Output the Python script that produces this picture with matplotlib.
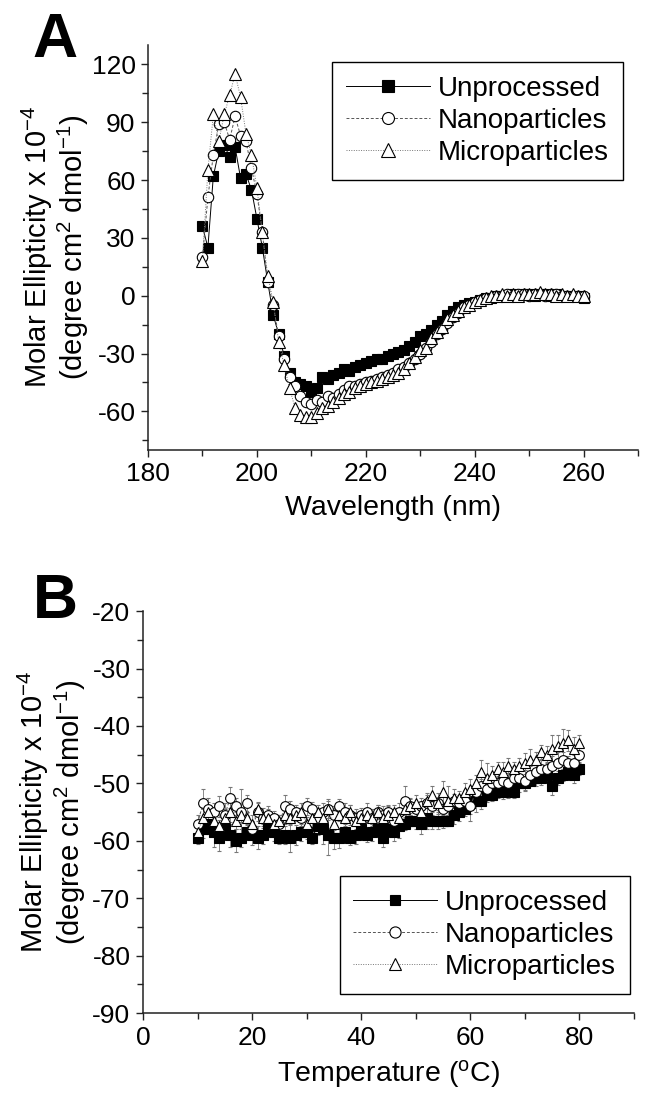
##### CD spectra (A) and thermal scan (B) of the protein samples

import numpy as np
import matplotlib.pyplot as plt

plt.rcParams['font.family'] = ['Liberation Sans', 'DejaVu Sans']
plt.rcParams['mathtext.fontset'] = 'custom'
plt.rcParams['mathtext.rm'] = 'Liberation Sans'
plt.rcParams['mathtext.it'] = 'Liberation Sans:italic'
plt.rcParams['axes.unicode_minus'] = False

# ---- panel A data (wavelength scan, 1 nm steps)
wavelength = np.arange(190, 261)

unp_A = [36, 25, 62, 75, 78, 72, 77, 61, 63, 55,
         40, 25, 7, -10, -20, -31, -40, -45, -46, -47,
         -50, -48, -42, -43, -41, -40, -38, -39, -37, -36,
         -35, -34, -33, -33, -31, -30, -29, -28, -26, -24,
         -21, -20, -18, -15, -13, -10, -8, -6, -5, -4,
         -3, -2, -1, -1, 0, 0, 0, 1, 0, 1,
         1, 0, 1, 1, 0, 1, 0, 0, 0, 0,
         -1]
nano_A = [20, 51, 73, 89, 90, 81, 93, 83, 80, 66,
          53, 33, 7, -5, -21, -33, -42, -47, -52, -55,
          -56, -54, -55, -52, -53, -51, -49, -47, -47, -46,
          -45, -44, -43, -42, -41, -40, -38, -37, -35, -33,
          -30, -27, -24, -20, -17, -14, -11, -9, -6, -5,
          -3, -2, -1, -1, 0, 0, 1, 0, 1, 1,
          0, 1, 1, 0, 1, 1, 0, 0, 0, 0,
          0]
micro_A = [18, 65, 94, 80, 94, 104, 115, 103, 84, 73,
           56, 33, 10, -3, -24, -36, -48, -58, -62, -63,
           -63, -61, -58, -57, -55, -53, -51, -50, -48, -47,
           -46, -45, -44, -43, -42, -41, -40, -38, -35, -32,
           -28, -27, -22, -19, -16, -12, -10, -8, -6, -4.6,
           -3, -2, -1, 0, 0, 1, 0, 1, 0, 1,
           1, 1, 2, 1, 1, 0, 1, 0, 1, 0,
           0]

# ---- panel B data (temperature scan, 1 C steps)
temperature = np.arange(10, 81)

unp_B = [-59.5, -58, -57, -58.5, -59.5, -58, -59, -60, -59.5, -58.5,
         -59, -59.5, -59, -58, -58.5, -59.5, -59, -59.5, -59, -58.5,
         -58.5, -59.5, -57.5, -58, -59, -59.5, -59.5, -58.5, -59.5, -59,
         -58, -59, -58.5, -58, -59.5, -58, -58.5, -57.5, -57, -56.5,
         -56.5, -57, -56, -56.5, -56.5, -56.5, -56.5, -55.5, -55, -54.5,
         -53.5, -53, -53, -52, -52, -51.5, -51.5, -51, -51.5, -50,
         -50, -49.5, -49, -49, -48.5, -50.5, -49, -48.5, -48, -48.5,
         -47.5]
nano_B = [-57, -53.5, -54.5, -55, -54, -55.5, -52.5, -54, -55, -53.5,
          -58, -55, -56, -55.5, -56, -57, -54, -54.5, -55, -56,
          -54, -54.5, -56, -55, -54.5, -55.5, -54, -55, -55.5, -56,
          -55.5, -55, -56, -55, -55.5, -55, -56.5, -55, -53, -54,
          -54.5, -54, -53.5, -54, -53.5, -54.5, -54, -53, -53.5, -53,
          -54, -51.5, -50.5, -51, -50, -50, -49.5, -50, -49, -49,
          -49.5, -48.5, -48, -47.5, -47.5, -47, -46.5, -46, -46.5, -46.5,
          -45]
micro_B = [-58.5, -56, -55, -56.5, -57.5, -56, -55, -56.5, -55.5, -56,
           -57, -54.5, -56, -56, -57, -56.5, -55.5, -56, -55.5, -55,
           -57, -56, -55, -56, -54.5, -57, -55.5, -56, -55, -56.5,
           -56, -55.5, -56, -55, -56, -55.5, -55, -56, -54.5, -54,
           -53.5, -55, -53, -52, -53.5, -51.5, -53, -52.5, -52.5, -51.5,
           -51, -50, -48, -49, -48.5, -47.5, -48, -47, -47.5, -47,
           -46.5, -46, -46, -44.5, -45, -44, -43.5, -43, -42.5, -44,
           -43]

err_unp = [1.0, 1.5, 1.8, 2.5, 2.2, 1.5, 2.0, 2.0, 1.5, 1.2,
           1.8, 2.0, 1.5, 1.2, 1.5, 1.0, 1.5, 2.5, 1.8, 1.5,
           1.2, 1.0, 1.5, 2.5, 3.5, 2.0, 1.8, 1.5, 1.2, 1.5,
           1.0, 1.2, 1.5, 1.0, 1.5, 1.2, 1.5, 2.0, 1.2, 1.0,
           1.5, 1.8, 2.0, 1.5, 1.5, 1.2, 1.0, 1.5, 1.5, 1.2,
           1.8, 2.0, 1.5, 1.2, 1.0, 1.0, 1.2, 1.5, 1.0, 1.5,
           1.2, 1.0, 1.5, 1.2, 1.0, 1.5, 1.2, 1.0, 1.2, 1.5,
           1.0]
err_nano = [1.5, 2.5, 2.0, 1.5, 1.8, 2.0, 1.8, 1.5, 4.0, 1.5,
            1.2, 1.5, 1.8, 1.5, 1.2, 1.5, 2.0, 1.5, 1.2, 1.5,
            1.5, 1.2, 1.0, 1.5, 1.8, 1.5, 1.2, 1.5, 1.8, 1.5,
            1.2, 1.5, 1.0, 1.2, 1.5, 1.2, 1.0, 1.5, 2.5, 1.5,
            1.2, 1.5, 1.8, 1.5, 1.2, 1.0, 1.5, 1.2, 1.5, 1.8,
            2.5, 1.5, 1.2, 1.8, 1.5, 1.2, 1.5, 1.8, 2.0, 1.5,
            1.8, 1.5, 2.0, 1.5, 1.2, 1.8, 2.0, 1.5, 1.2, 1.5,
            1.2]
err_micro = [1.2, 1.5, 1.8, 1.5, 1.2, 1.5, 1.8, 1.5, 1.2, 1.0,
             1.5, 1.2, 1.0, 1.5, 1.2, 1.0, 1.5, 1.2, 1.0, 1.5,
             1.2, 1.5, 1.2, 1.0, 1.5, 1.2, 1.0, 1.5, 1.2, 1.5,
             1.0, 1.2, 1.5, 1.2, 1.0, 1.5, 1.2, 1.0, 1.5, 1.2,
             1.5, 1.2, 1.0, 1.5, 1.8, 2.0, 2.5, 1.5, 1.2, 1.5,
             1.8, 1.5, 2.0, 2.5, 1.5, 1.2, 1.8, 1.5, 1.2, 1.5,
             1.8, 2.0, 1.5, 1.2, 1.5, 2.5, 2.0, 2.5, 1.8, 2.0,
             1.5]

labels = ['Unprocessed', 'Nanoparticles', 'Microparticles']
ylab = 'Molar Ellipticity x 10$^{-4}$\n(degree cm$^{2}$ dmol$^{-1}$)'


def style_axes(ax):
    for s in ['top', 'right']:
        ax.spines[s].set_visible(False)
    for s in ['left', 'bottom']:
        ax.spines[s].set_linewidth(1.1)
        ax.spines[s].set_color('#222222')
    ax.tick_params(which='both', direction='out', width=1.0, color='#222222',
                   labelsize=19, pad=4)
    ax.tick_params(which='major', length=5)
    ax.tick_params(which='minor', length=4)


def add_legend(ax, handles, anchor):
    leg = ax.legend(handles, labels, loc='upper right', bbox_to_anchor=anchor, borderaxespad=0,
                    fontsize=20, handlelength=3.0, handletextpad=0.3, labelspacing=0.22,
                    borderpad=0.5, markerscale=1.15, fancybox=False, edgecolor='black',
                    framealpha=1)
    leg.get_frame().set_linewidth(1.0)


fig = plt.figure(figsize=(6.52, 11.04), dpi=100)

# ---------------- A
ax1 = fig.add_axes([0.227, 0.5924, 0.7515, 0.3668])
l1, = ax1.plot(wavelength, unp_A, color='black', lw=0.7, ls='-', marker='s', ms=7,
               mfc='black', mec='black', mew=0.8)
l2, = ax1.plot(wavelength, nano_A, color='#555555', lw=0.7, ls=(0, (3, 2)), marker='o', ms=7.5,
               mfc='white', mec='black', mew=0.8)
l3, = ax1.plot(wavelength, micro_A, color='#777777', lw=0.7, ls=(0, (1, 1.5)), marker='^', ms=8.5,
               mfc='white', mec='black', mew=0.8)
ax1.set_xlim(180, 270)
ax1.set_ylim(-80, 130)
ax1.set_xticks([180, 200, 220, 240, 260])
ax1.set_xticks([190, 210, 230, 250, 270], minor=True)
ax1.set_yticks([-60, -30, 0, 30, 60, 90, 120])
ax1.set_yticks([-75, -45, -15, 15, 45, 75, 105], minor=True)
style_axes(ax1)
ax1.set_xlabel('Wavelength (nm)', fontsize=20.5, labelpad=6)
add_legend(ax1, [l1, l2, l3], (0.969, 0.958))
fig.text(0.085, 0.776, ylab, rotation=90, ha='center', va='center', fontsize=21,
         linespacing=1.05)
fig.text(0.050, 0.990, 'A', fontsize=45, fontweight='bold', ha='left', va='top')

# ---------------- B
ax2 = fig.add_axes([0.2193, 0.0824, 0.753, 0.364])
e1 = ax2.errorbar(temperature, unp_B, yerr=err_unp, color='black', lw=0.7, ls='-', marker='s', ms=6.5,
                  mfc='black', mec='black', mew=0.8, ecolor='#777777', elinewidth=0.6, capsize=1.5,
                  capthick=0.6)
e2 = ax2.errorbar(temperature, nano_B, yerr=err_nano, color='#555555', lw=0.7, ls=(0, (3, 2)), marker='o',
                  ms=7, mfc='white', mec='black', mew=0.8, ecolor='#777777', elinewidth=0.6, capsize=1.5,
                  capthick=0.6)
e3 = ax2.errorbar(temperature, micro_B, yerr=err_micro, color='#777777', lw=0.7, ls=(0, (1, 1.5)), marker='^',
                  ms=7.5, mfc='white', mec='black', mew=0.8, ecolor='#777777', elinewidth=0.6, capsize=1.5,
                  capthick=0.6)
ax2.set_xlim(0, 90)
ax2.set_ylim(-90, -20)
ax2.set_xticks([0, 20, 40, 60, 80])
ax2.set_xticks([10, 30, 50, 70, 90], minor=True)
ax2.set_yticks(np.arange(-90, -19, 10))
ax2.set_yticks(np.arange(-85, -20, 10), minor=True)
style_axes(ax2)
ax2.set_xlabel('Temperature ($^{\\mathrm{o}}$C)', fontsize=20.5, labelpad=6)
add_legend(ax2, [e1[0], e2[0], e3[0]], (0.992, 0.341))
fig.text(0.080, 0.2645, ylab, rotation=90, ha='center', va='center', fontsize=21,
         linespacing=1.05)
fig.text(0.050, 0.482, 'B', fontsize=45, fontweight='bold', ha='left', va='top')

plt.savefig('out.png', dpi=100)
